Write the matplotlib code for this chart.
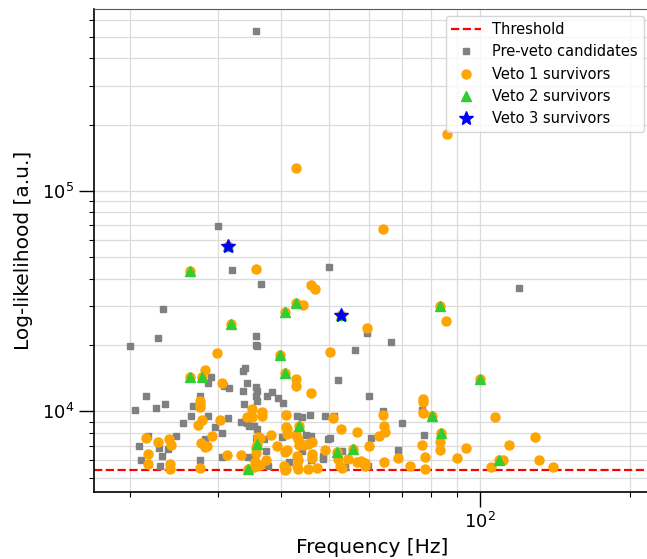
import matplotlib
matplotlib.use('Agg')
import matplotlib.pyplot as plt
from matplotlib.ticker import NullFormatter
import numpy as np

threshold = 5430

# candidates that did not survive veto 1 (grey only)
pre_freq = [35.7, 30.0, 32.0, 50.0, 36.6, 23.3, 119.7, 59.5, 66.6,
            20.0, 22.7, 35.7, 35.7, 35.9, 56.2,
            29.0, 28.6, 31.6, 30.8, 33.6, 34.0, 34.2, 33.7, 35.7, 35.8, 35.7, 35.8,
            37.6, 38.5, 39.6, 40.5, 52.0, 60.0, 21.5, 20.5, 22.5, 23.5, 26.7, 27.6, 33.8,
            41.0, 43.2, 44.1, 45.7, 49.1, 51.2, 64.1, 25.5, 26.5, 28.6, 31.4, 29.5, 30.6,
            33.3, 34.2, 34.6, 35.4, 35.9, 28.2, 24.7, 20.8, 21.7, 22.8, 23.8, 23.2, 21.0,
            23.0, 27.6, 30.6, 34.4, 35.6, 37.4, 37.8, 37.0, 40.3, 41.5, 45.0, 46.0, 44.2,
            45.9, 48.5, 48.6, 49.7, 50.3, 53.1, 53.9, 59.8, 60.7, 35.7,
            70.0, 68.5, 76.8, 77.3]
pre_ll = [5.35e5, 6.91e4, 4.39e4, 4.50e4, 3.78e4, 2.92e4, 3.65e4, 2.28e4, 2.07e4,
          1.99e4, 2.15e4, 2.20e4, 2.01e4, 1.98e4, 1.90e4,
          1.44e4, 1.34e4, 1.28e4, 1.30e4, 1.53e4, 1.57e4, 1.35e4, 1.24e4, 1.29e4, 1.24e4, 1.18e4, 1.12e4,
          1.18e4, 1.23e4, 1.15e4, 1.09e4, 1.39e4, 1.17e4, 1.17e4, 1.02e4, 1.04e4, 1.08e4, 1.06e4, 1.17e4, 1.08e4,
          9.7e3, 9.5e3, 9.4e3, 9.6e3, 9.5e3, 9.5e3, 1.0e4, 8.9e3, 9.5e3, 9.56e3, 9.3e3, 8.5e3, 7.98e3,
          8.98e3, 8.83e3, 8.61e3, 8.61e3, 8.32e3, 7.5e3, 7.77e3, 6.95e3, 7.7e3, 6.86e3, 6.76e3, 6.26e3, 5.99e3,
          5.68e3, 5.99e3, 6.2e3, 6.2e3, 6.2e3, 6.64e3, 5.68e3, 7.5e3, 7.68e3, 5.9e3, 7.8e3, 7.7e3, 6.6e3,
          5.99e3, 6.1e3, 6.3e3, 7.5e3, 7.6e3, 6.6e3, 5.58e3, 5.68e3, 7.6e3, 7.6e3,
          8.86e3, 6.69e3, 1.02e4, 7.82e3]

# survived veto 1 only (orange)
v1_freq = [42.9, 85.9, 35.7, 64.2, 45.9, 46.8, 44.4, 85.5, 59.5,
           29.9, 50.1, 28.2, 30.5, 42.9, 42.9, 46.0, 27.6, 27.6, 27.6, 35.1, 36.7, 36.7,
           41.0, 50.8, 64.1, 64.4, 64.6, 27.9, 27.3, 30.3, 34.2, 35.0, 29.2, 27.7, 28.2,
           28.5, 21.5, 22.7, 23.9, 24.2, 21.7, 21.7, 24.0, 24.0, 27.6, 31.2, 33.4, 35.7,
           35.7, 36.0, 36.3, 35.5, 35.7, 36.4, 35.3, 37.4, 38.3, 39.4, 41.0, 41.1, 41.2,
           40.8, 41.2, 40.7, 41.0, 40.9, 43.0, 43.4, 43.6, 44.5, 45.3, 46.3, 43.2, 43.4,
           43.2, 43.4, 46.3, 46.3, 45.3, 47.3, 49.1, 52.8, 52.1, 52.5, 53.0, 54.6, 56.9,
           56.9, 58.0, 59.0, 59.1, 60.1, 62.9, 64.4,
           68.6, 72.6, 76.9, 76.9, 77.2, 76.6, 77.6, 77.6, 83.3, 83.3, 90.2, 94.0,
           107.3, 105.2, 111.5, 114.3, 128.7, 131.2, 140.4]
v1_ll = [1.27e5, 1.81e5, 4.42e4, 6.72e4, 3.76e4, 3.61e4, 3.03e4, 2.56e4, 2.40e4,
         1.85e4, 1.87e4, 1.54e4, 1.35e4, 1.40e4, 1.31e4, 1.21e4, 1.12e4, 1.08e4, 1.05e4, 1.03e4, 9.9e3, 9.5e3,
         9.6e3, 9.33e3, 9.6e3, 8.6e3, 8.04e3, 9.1e3, 8.7e3, 9.1e3, 9.46e3, 9.46e3, 7.77e3, 7.19e3, 6.88e3,
         6.95e3, 7.58e3, 7.24e3, 7.5e3, 7.07e3, 6.42e3, 5.78e3, 5.78e3, 5.49e3, 5.53e3, 6.33e3, 6.35e3, 6.46e3,
         6.83e3, 7.63e3, 7.55e3, 5.89e3, 5.68e3, 5.74e3, 5.57e3, 5.99e3, 7.82e3, 7.0e3, 8.53e3, 8.32e3, 7.9e3,
         6.53e3, 6.71e3, 5.68e3, 5.49e3, 5.4e3, 7.82e3, 7.5e3, 7.05e3, 7.07e3, 7.12e3, 7.24e3, 6.3e3, 6.03e3,
         5.68e3, 5.49e3, 6.38e3, 6.13e3, 5.49e3, 5.53e3, 6.71e3, 8.32e3, 6.1e3, 5.68e3, 5.53e3, 6.1e3, 8.04e3,
         5.89e3, 5.93e3, 5.68e3, 5.84e3, 7.0e3, 7.7e3, 5.89e3,
         6.14e3, 5.68e3, 1.14e4, 1.10e4, 9.8e3, 7.07e3, 6.24e3, 5.49e3, 7.24e3, 6.71e3, 6.16e3, 6.83e3,
         9.46e3, 5.59e3, 6.05e3, 7.02e3, 7.63e3, 6.05e3, 5.61e3]

# survived veto 2 only (green)
v2_freq = [26.3, 42.9, 40.8, 83.2, 31.8, 39.8, 26.3, 27.9, 40.9, 35.8, 34.4,
           43.6, 51.8, 55.7, 80.1, 83.5, 100.3, 109.1]
v2_ll = [4.32e4, 3.11e4, 2.82e4, 3.02e4, 2.49e4, 1.80e4, 1.44e4, 1.44e4, 1.50e4, 7.12e3, 5.49e3,
         8.56e3, 6.53e3, 6.76e3, 9.5e3, 7.98e3, 1.41e4, 6.05e3]

# survived veto 3 (blue)
v3_freq = [31.4, 52.8]
v3_ll = [5.62e4, 2.75e4]

# each stage contains the survivors of the later stages
s3_f, s3_l = np.array(v3_freq), np.array(v3_ll)
s2_f, s2_l = np.concatenate([v2_freq, s3_f]), np.concatenate([v2_ll, s3_l])
s1_f, s1_l = np.concatenate([v1_freq, s2_f]), np.concatenate([v1_ll, s2_l])
s0_f, s0_l = np.concatenate([pre_freq, s1_f]), np.concatenate([pre_ll, s1_l])

fig = plt.figure(figsize=(6.47, 5.59), dpi=100)
# right edge of the axes runs just past the image border, as in the reference
ax = fig.add_axes([94/647, 1-492/559, (651-94)/647, (492-9)/559])

ax.axhline(threshold, color='red', linestyle='--', linewidth=1.6, label='Threshold', zorder=2)
ax.plot(s0_f, s0_l, 's', color='grey', markersize=5, label='Pre-veto candidates', zorder=3)
ax.plot(s1_f, s1_l, 'o', color='orange', markersize=6.5, label='Veto 1 survivors', zorder=4)
ax.plot(s2_f, s2_l, '^', color='limegreen', markersize=7.5, label='Veto 2 survivors', zorder=5)
ax.plot(s3_f, s3_l, '*', color='blue', markersize=10.5, label='Veto 3 survivors', zorder=6)

ax.set_xscale('log')
ax.set_yscale('log')
ax.set_xlim(16.94, 220)
ax.set_ylim(4310, 6.7e5)
ax.xaxis.set_minor_formatter(NullFormatter())
ax.yaxis.set_minor_formatter(NullFormatter())

ax.grid(True, which='both', color='0.86', linewidth=0.9)
ax.set_axisbelow(True)
ax.spines['left'].set_linewidth(1.2)
ax.spines['bottom'].set_linewidth(1.2)
ax.spines['top'].set_color('0.35')
ax.tick_params(which='major', length=11, width=1, labelsize=13)
ax.tick_params(which='minor', length=3.5, width=0.8)

ax.set_xlabel('Frequency [Hz]', fontsize=14.5)
ax.set_ylabel('Log-likelihood [a.u.]', fontsize=14.5, labelpad=6)
ax.legend(loc='upper right', fontsize=10.5, numpoints=1)

fig.savefig('out.png', dpi=100)
